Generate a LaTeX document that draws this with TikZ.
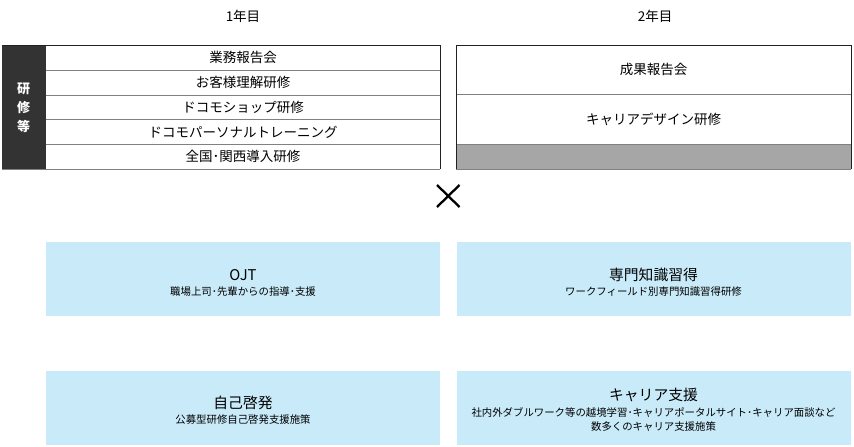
\documentclass[tikz,border=0pt]{standalone}
\usepackage{fontspec}
\setmainfont{Noto Sans CJK JP}
\definecolor{darklab}{HTML}{333333}
\definecolor{grayrow}{HTML}{A6A6A6}
\definecolor{divline}{HTML}{808080}
\definecolor{lightblue}{HTML}{C9EBF9}
\definecolor{frame}{HTML}{222222}
\begin{document}
\begin{tikzpicture}[x=1pt,y=-1pt,
  rowtext/.style={font=\fontsize{13.5}{15}\selectfont, text=black, inner sep=0pt},
  yeartext/.style={font=\fontsize{13.5}{15}\selectfont, inner sep=0pt},
  bluebox/.style={fill=lightblue, draw=none},
  titletext/.style={font=\fontsize{14.8}{16}\selectfont, inner sep=0pt},
  subtext/.style={font=\fontsize{10.4}{12}\selectfont, inner sep=0pt, align=center},
  divider/.style={draw=divline, line width=0.9pt},
  framebox/.style={draw=frame, line width=0.9pt}
]
\useasboundingbox (0,0) rectangle (854,447);
\fill[white] (0,0) rectangle (854,447);

% year headings
\node[yeartext] (y1) at (243,16) {1年目};
\node[yeartext] (y2) at (655,16) {2年目};

% left label
\fill[darklab] (2,45) rectangle (45.7,169);
\node[font=\bfseries\fontsize{13}{19}\selectfont, text=white, align=center, inner sep=0pt] (lab) at (23.5,107.5) {研\\修\\等};

% left table
\draw[divider] (45.7,70) -- (440,70);
\draw[divider] (45.7,95) -- (440,95);
\draw[divider] (45.7,119.5) -- (440,119.5);
\draw[divider] (45.7,144) -- (440,144);
\draw[divider] (2,169) -- (440,169);
\draw[framebox] (2,45) -- (440,45) -- (440,169);
\node[rowtext] (r1) at (243,57.5) {業務報告会};
\node[rowtext] (r2) at (243,82.5) {お客様理解研修};
\node[rowtext] (r3) at (243,107) {ドコモショップ研修};
\node[rowtext] (r4) at (243,132) {ドコモパーソナルトレーニング};
\node[rowtext] (r5) at (243,156.5) {全国･関西導入研修};

% right table
\fill[grayrow] (456,144) rectangle (851,169);
\draw[divider] (456,94) -- (851,94);
\draw[divider] (456,144) -- (851,144);
\draw[divider] (456,169) -- (851,169);
\draw[framebox] (456,169) -- (456,45) -- (851,45) -- (851,169);
\node[rowtext] (s1) at (653.5,69.5) {成果報告会};
\node[rowtext] (s2) at (653.5,119) {キャリアデザイン研修};

% cross
\draw[line width=2.3pt] (437,185) -- (459.5,207);
\draw[line width=2.3pt] (459.5,185) -- (437,207);

% blue boxes
\fill[bluebox] (46,241.7) rectangle (440,316);
\fill[bluebox] (46,370.7) rectangle (440,445);
\fill[bluebox] (456.7,241.7) rectangle (851,316);
\fill[bluebox] (456.7,370.7) rectangle (851,445);

\node[titletext] (b1t) at (243,275) {OJT};
\node[subtext] (b1s) at (243,292) {職場上司･先輩からの指導･支援};
\node[titletext] (b2t) at (243,403) {自己啓発};
\node[subtext] (b2s) at (243,420) {公募型研修自己啓発支援施策};
\node[titletext] (b3t) at (653.5,275) {専門知識習得};
\node[subtext] (b3s) at (653.5,292) {ワークフィールド別専門知識習得研修};
\node[titletext] (b4t) at (653.5,395) {キャリア支援};
\node[subtext] (b4s) at (653.5,412.5) {社内外ダブルワーク等の越境学習･キャリアポータルサイト･キャリア面談など};
\node[subtext] (b4u) at (653.5,427) {数多くのキャリア支援施策};
\end{tikzpicture}
\end{document}
